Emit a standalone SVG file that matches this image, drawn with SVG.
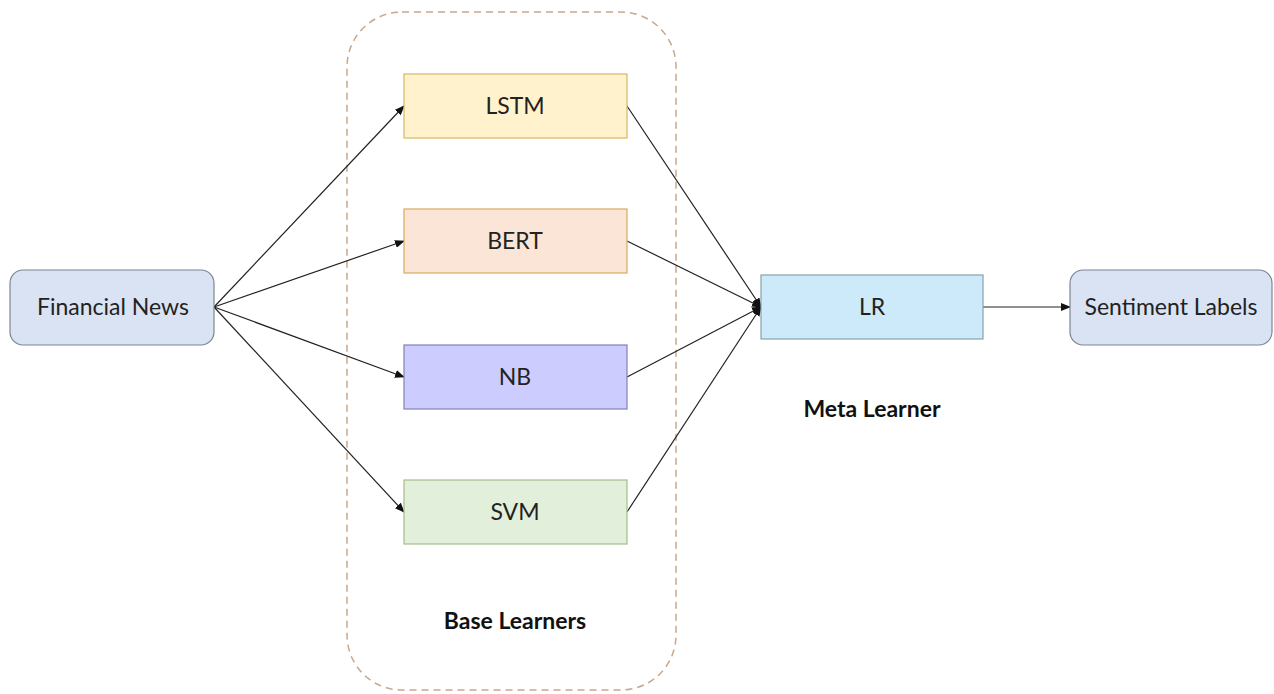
<svg xmlns="http://www.w3.org/2000/svg" width="1274" height="694" viewBox="0 0 1274 694">
<defs>
<marker id="ah" markerWidth="10" markerHeight="8" refX="9" refY="4" orient="auto" markerUnits="userSpaceOnUse">
<path d="M0,0 L10,4 L0,8 Z" fill="#111"/>
</marker>
<style>
.t{font-family:Lato,"Open Sans","Liberation Sans",sans-serif;font-size:23px;fill:#222;text-anchor:middle;dominant-baseline:central}
.b{font-family:Lato,"Open Sans","Liberation Sans",sans-serif;font-size:23px;font-weight:bold;fill:#111;text-anchor:middle;dominant-baseline:central}
.c{stroke:#222;stroke-width:1.2;fill:none;marker-end:url(#ah)}
</style>
</defs>
<rect width="1274" height="694" fill="#fff"/>
<g id="base-learners-group">
<rect x="347" y="12" width="329" height="678" rx="55" fill="none" stroke="#c9a88a" stroke-width="1.5" stroke-dasharray="7,5"/>
<text class="b" x="515" y="620">Base Learners</text>
</g>
<g id="meta-label"><text class="b" x="872" y="408">Meta Learner</text></g>
<g id="connectors">
<line class="c" x1="214" y1="307" x2="404" y2="106"/>
<line class="c" x1="214" y1="307" x2="404" y2="241"/>
<line class="c" x1="214" y1="307" x2="404" y2="377"/>
<line class="c" x1="214" y1="307" x2="404" y2="512"/>
<line class="c" x1="627" y1="106" x2="761" y2="307"/>
<line class="c" x1="627" y1="241" x2="761" y2="307"/>
<line class="c" x1="627" y1="377" x2="761" y2="307"/>
<line class="c" x1="627" y1="512" x2="761" y2="307"/>
<line class="c" x1="983" y1="307" x2="1070" y2="307"/>
</g>
<g id="financial-news">
<rect x="10" y="270" width="204" height="75" rx="13" fill="#dae3f3" stroke="#7d8595" stroke-width="1.2"/>
<text class="t" x="113" y="306">Financial News</text>
</g>
<g id="lstm">
<rect x="404" y="74" width="223" height="64" fill="#fff2cc" stroke="#d4b866" stroke-width="1.2"/>
<text class="t" x="515" y="105">LSTM</text>
</g>
<g id="bert">
<rect x="404" y="209" width="223" height="64" fill="#fbe5d6" stroke="#d9ab5e" stroke-width="1.2"/>
<text class="t" x="515" y="240">BERT</text>
</g>
<g id="nb">
<rect x="404" y="345" width="223" height="64" fill="#ccccff" stroke="#8080b8" stroke-width="1.2"/>
<text class="t" x="515" y="376">NB</text>
</g>
<g id="svm">
<rect x="404" y="480" width="223" height="64" fill="#e2efda" stroke="#a3bd8a" stroke-width="1.2"/>
<text class="t" x="515" y="511">SVM</text>
</g>
<g id="lr">
<rect x="761" y="275" width="222" height="64" fill="#cdeafa" stroke="#8aa0a8" stroke-width="1.2"/>
<text class="t" x="872" y="306">LR</text>
</g>
<g id="sentiment-labels">
<rect x="1070" y="270" width="202" height="75" rx="13" fill="#dae3f3" stroke="#7d8595" stroke-width="1.2"/>
<text class="t" x="1171" y="306">Sentiment Labels</text>
</g>
</svg>
